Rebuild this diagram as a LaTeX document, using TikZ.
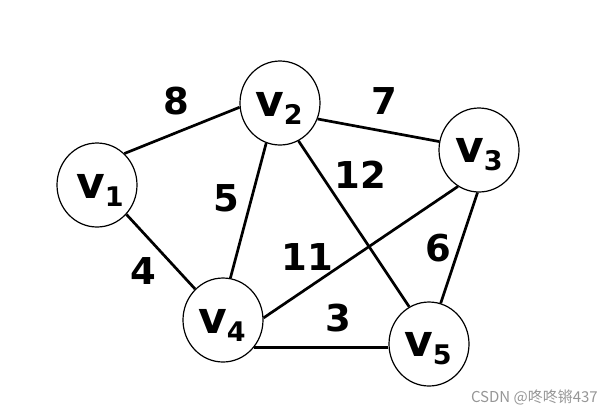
\documentclass[tikz,border=0pt]{standalone}
\usepackage{fontspec}
\setmainfont{DejaVu Sans}
\newfontfamily\cjkwm{Noto Sans CJK SC}
\usetikzlibrary{shapes.geometric}
\definecolor{wmgray}{RGB}{150,150,150}
\newcommand{\vlab}[1]{{\fontsize{44}{44}\selectfont\bfseries v}{\fontsize{27}{27}\selectfont\bfseries\raisebox{-8pt}{#1}}}
\begin{document}
\begin{tikzpicture}[x=1pt,y=-1pt,
  vert/.style={ellipse,draw,line width=1.2pt,minimum width=80pt,minimum height=84pt,inner sep=0pt},
  edge/.style={line width=2.7pt},
  wt/.style={font=\fontsize{37}{37}\selectfont\bfseries,inner sep=0pt}]
\useasboundingbox (0,0) rectangle (612,416);
\node[vert] (v1) at (97,185) {};
\node[vert] (v2) at (280,103) {};
\node[vert] (v3) at (479,150) {};
\node[vert] (v4) at (223,320) {};
\node[vert] (v5) at (429,344) {};
\node (t1) at (100,190) {\vlab{1}};
\node (t2) at (279,108) {\vlab{2}};
\node (t3) at (479,155) {\vlab{3}};
\node (t4) at (222,325) {\vlab{4}};
\node (t5) at (428,349) {\vlab{5}};
\draw[edge] (v1.49) -- (v2.186);
\draw[edge] (v2.-23) -- (v3.168);
\draw[edge] (v1.-45) -- (v4.132);
\draw[edge] (v2.-109) -- (v4.80);
\draw[edge] (v2.-64) -- (v5.118);
\draw[edge] (v3.-120) -- (v4.3);
\draw[edge] (v3.-92) -- (v5.74);
\coordinate (h4) at (v4.-42);
\draw[edge] (h4) -- (h4 -| v5.west);
\node[wt] (w8) at (176,101) {8};
\node[wt] (w7) at (384,101) {7};
\node[wt] (w12) at (360,175) {12};
\node[wt] (w5) at (226,198) {5};
\node[wt] (w11) at (307,257) {11};
\node[wt] (w4) at (143,271) {4};
\node[wt] (w6) at (438,248) {6};
\node[wt] (w3) at (338,318) {3};
\node[text=wmgray,font=\cjkwm\fontsize{15}{15}\selectfont,anchor=east,inner sep=0pt] (wm) at (598,397) {CSDN @咚咚锵437};
\end{tikzpicture}
\end{document}
